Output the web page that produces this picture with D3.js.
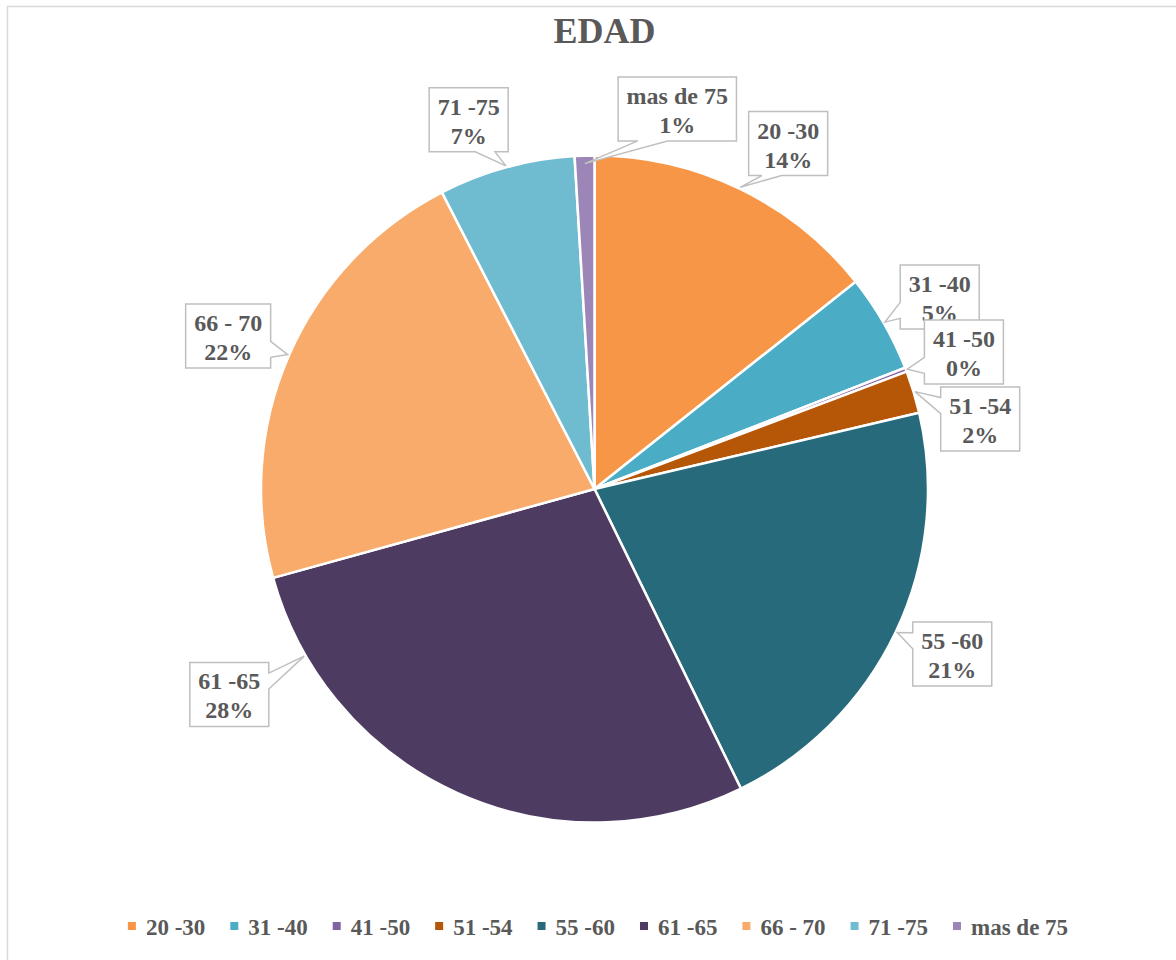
<!DOCTYPE html>
<html>
<head>
<meta charset="utf-8">
<script src="https://cdn.jsdelivr.net/npm/d3@7"></script>
<style>
  html, body { margin: 0; padding: 0; background: #fff; }
  svg { display: block; }
  text { font-family: Liberation Serif, serif; font-weight: bold; }
</style>
</head>
<body>
<svg id="chart" width="1176" height="960"></svg>
<script>
// ---- data ----
const title = "EDAD";
const categories = ["20 -30", "31 -40", "41 -50", "51 -54", "55 -60", "61 -65", "66 - 70", "71 -75", "mas de 75"];
const values = [14.3, 4.75, 0.2, 2.05, 21.4, 27.9, 21.7, 6.6, 0.95];
const colors = ["#F79646", "#4BACC6", "#8064A2", "#B65708", "#276A7C", "#4D3B62", "#F8AB6A", "#6FBCD0", "#9C86B7"];

// ---- layout (label placement nudges, degrees / px) ----
const labelNudgeDeg = [3.5, 0.8, 0.6, 6.6, -0.6, 36.4, -1.0, -3.5, 14.0];
const labelDist = [396, 395, 394, 392, 394, 419, 397, 390, 389];

const W = 1176, H = 960;
const cx = 594.5, cy = 489, R = 333.5;
const textColor = "#595959";

const svg = d3.select("#chart");

// chart border
svg.append("rect")
  .attr("x", 7.5).attr("y", 6.5).attr("width", W + 10).attr("height", H + 10)
  .attr("fill", "#fff").attr("stroke", "#d9d9d9").attr("stroke-width", 1.5);

// title
svg.append("text")
  .attr("x", 604.5).attr("y", 43)
  .attr("text-anchor", "middle")
  .attr("font-size", 36)
  .attr("fill", textColor)
  .text(title);

const data = categories.map((c, i) => ({ cat: c, value: values[i], color: colors[i], i }));
const total = d3.sum(values);

const pie = d3.pie().value(d => d.value).sort(null);
const arcs = pie(data);
const arc = d3.arc().innerRadius(0).outerRadius(R);

const g = svg.append("g").attr("transform", `translate(${cx},${cy})`);
g.selectAll("path.slice")
  .data(arcs)
  .join("path")
  .attr("class", "slice")
  .attr("d", arc)
  .attr("fill", d => d.data.color)
  .attr("stroke", "#fff")
  .attr("stroke-width", 2.5)
  .attr("stroke-linejoin", "round");

// ---- callout labels ----
const fmtPct = v => Math.round(v / total * 100) + "%";
const lblFont = 24;

const measure = svg.append("text")
  .attr("font-size", lblFont)
  .attr("visibility", "hidden");
function textW(s) { measure.text(s); return measure.node().getComputedTextLength(); }

const lg = svg.append("g");
arcs.forEach((a, i) => {
  const mid = (a.startAngle + a.endAngle) / 2;
  const nudge = labelNudgeDeg[i] * Math.PI / 180;
  const boxAng = mid + nudge;
  const tipAng = Math.abs(labelNudgeDeg[i]) > 20 ? boxAng - 0.01 : mid;
  const tipR = (i === 8) ? R - 8 : R + 1.5;
  const tx = cx + tipR * Math.sin(tipAng), ty = cy - tipR * Math.cos(tipAng);
  const bcx = cx + labelDist[i] * Math.sin(boxAng), bcy = cy - labelDist[i] * Math.cos(boxAng);

  const l1 = a.data.cat, l2 = fmtPct(a.data.value);
  const bw = Math.max(textW(l1), textW(l2)) + 17;
  const bh = 64;
  const x0 = bcx - bw / 2, y0 = bcy - bh / 2, x1 = x0 + bw, y1 = y0 + bh;

  const nx = (tx - bcx) / (bw / 2), ny = (ty - bcy) / (bh / 2);
  let pts;
  if (Math.abs(nx) > Math.abs(ny)) {
    const f = ty < bcy ? [2 / 12, 5 / 12] : [7 / 12, 10 / 12];
    const ya = y0 + f[0] * bh, yb = y0 + f[1] * bh;
    if (nx < 0) {
      pts = [[x0, y0], [x1, y0], [x1, y1], [x0, y1], [x0, yb], [tx, ty], [x0, ya]];
    } else {
      pts = [[x0, y0], [x1, y0], [x1, ya], [tx, ty], [x1, yb], [x1, y1], [x0, y1]];
    }
  } else {
    const f = tx < bcx ? [2 / 12, 5 / 12] : [7 / 12, 10 / 12];
    const xa = x0 + f[0] * bw, xb = x0 + f[1] * bw;
    if (ny > 0) {
      pts = [[x0, y0], [x1, y0], [x1, y1], [xb, y1], [tx, ty], [xa, y1], [x0, y1]];
    } else {
      pts = [[x0, y0], [xa, y0], [tx, ty], [xb, y0], [x1, y0], [x1, y1], [x0, y1]];
    }
  }
  lg.append("path")
    .attr("d", d3.line()(pts) + "Z")
    .attr("fill", "#fff")
    .attr("stroke", "#bfbfbf")
    .attr("stroke-width", 1.5)
    .attr("stroke-linejoin", "miter");

  const t = lg.append("text")
    .attr("text-anchor", "middle")
    .attr("font-size", lblFont)
    .attr("fill", textColor);
  t.append("tspan").attr("x", bcx).attr("y", y0 + 27).text(l1);
  t.append("tspan").attr("x", bcx).attr("y", y0 + 56).text(l2);
});
measure.remove();

// ---- legend ----
const legFont = 23;
const meas2 = svg.append("text")
  .attr("font-size", legFont)
  .attr("visibility", "hidden");
const widths = categories.map(c => { meas2.text(c); return meas2.node().getComputedTextLength(); });
meas2.remove();
const sw = 8, swGap = 10, itemGap = 25;
const itemW = widths.map(w => sw + swGap + w);
const totalW = d3.sum(itemW) + itemGap * (categories.length - 1);
let lx = 598 - totalW / 2;
const ly = 926;
const leg = svg.append("g");
categories.forEach((c, i) => {
  leg.append("rect")
    .attr("x", lx).attr("y", ly - sw / 2).attr("width", sw).attr("height", sw)
    .attr("fill", colors[i]);
  leg.append("text")
    .attr("x", lx + sw + swGap).attr("y", ly + 8.5)
    .attr("font-size", legFont)
    .attr("fill", textColor)
    .text(c);
  lx += itemW[i] + itemGap;
});
</script>
</body>
</html>
